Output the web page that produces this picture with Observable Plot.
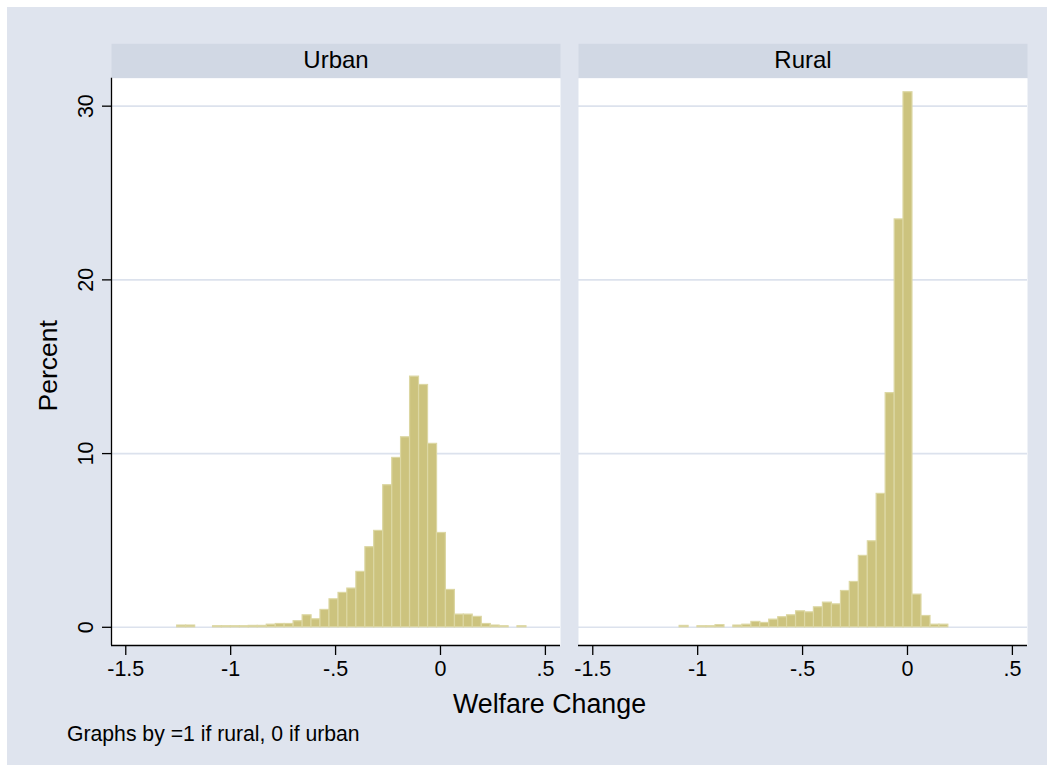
<!DOCTYPE html>
<html>
<head>
<meta charset="utf-8">
<script src="https://cdn.jsdelivr.net/npm/d3@7"></script>
<script src="https://cdn.jsdelivr.net/npm/@observablehq/plot@0.6"></script>
<style>
  html, body { margin: 0; padding: 0; background: #ffffff; }
  #chart { position: absolute; left: 7px; top: 7px; width: 1040px; height: 758px; background: #dfe4ee; }
</style>
</head>
<body>
<div id="chart"></div>
<script>
// ---- data ----
const panels = ["Urban", "Rural"];
const binWidth = 0.0427;

const urbanBinStart = [-1.255, -1.212, -1.170, -1.127, -1.084, -1.042, -0.999, -0.956, -0.914, -0.871,
  -0.828, -0.785, -0.743, -0.700, -0.657, -0.615, -0.572, -0.529, -0.486, -0.444,
  -0.401, -0.358, -0.316, -0.273, -0.230, -0.188, -0.145, -0.102, -0.059, -0.017,
  0.026, 0.069, 0.111, 0.154, 0.197, 0.239, 0.282, 0.325, 0.367];
const urbanPercent = [0.1, 0.1, 0, 0, 0.06, 0.06, 0.06, 0.06, 0.08, 0.08,
  0.15, 0.19, 0.19, 0.35, 0.69, 0.46, 1.0, 1.61, 1.98, 2.23,
  3.19, 4.61, 5.55, 8.18, 9.75, 10.94, 14.43, 13.95, 10.56, 5.43,
  2.15, 0.73, 0.73, 0.6, 0.19, 0.1, 0.06, 0, 0.06];

const ruralBinStart = [-1.086, -1.043, -1.001, -0.958, -0.915, -0.873, -0.830, -0.787, -0.744, -0.702,
  -0.659, -0.616, -0.574, -0.531, -0.488, -0.446, -0.403, -0.360, -0.317, -0.275,
  -0.232, -0.189, -0.147, -0.104, -0.061, -0.019, 0.024, 0.067, 0.110, 0.152];
const ruralPercent = [0.08, 0, 0.06, 0.06, 0.12, 0, 0.1, 0.15, 0.31, 0.25,
  0.44, 0.58, 0.69, 0.92, 0.86, 1.15, 1.42, 1.32, 2.09, 2.61,
  4.11, 4.95, 7.68, 13.48, 23.48, 30.8, 1.88, 0.65, 0.15, 0.15];

const xTicks = [-1.5, -1, -0.5, 0, 0.5];
const xTickLabels = ["-1.5", "-1", "-.5", "0", ".5"];
const yTicks = [0, 10, 20, 30];
const yTickLabels = ["0", "10", "20", "30"];
const xDomain = [-1.568, 0.572];
const yDomain = [-1.048, 31.61];

const xTitle = "Welfare Change";
const yTitle = "Percent";
const note = "Graphs by =1 if rural, 0 if urban";

// ---- table for the library ----
const bars = [];
urbanBinStart.forEach((x0, i) => { if (urbanPercent[i] > 0) bars.push({panel: "Urban", x0, x1: x0 + binWidth, pct: urbanPercent[i]}); });
ruralBinStart.forEach((x0, i) => { if (ruralPercent[i] > 0) bars.push({panel: "Rural", x0, x1: x0 + binWidth, pct: ruralPercent[i]}); });

const font = '"Liberation Sans", Arial, Helvetica, sans-serif';
const stripColor = "#d1d8e4";
const gridColor = "#dce2ed";
const barFill = "#ccc37e";
const barStroke = "#dcd7a3";

const chart = Plot.plot({
  width: 1040,
  height: 758,
  marginLeft: 103.5,
  marginRight: 19.7,
  marginTop: 70.7,
  marginBottom: 120,
  style: {fontFamily: font, color: "#000", background: "transparent", overflow: "visible"},
  fx: {domain: panels, axis: null, paddingInner: 0.0379, paddingOuter: 0},
  x: {domain: xDomain},
  y: {domain: yDomain},
  marks: [
    Plot.frame({fill: stripColor, stroke: "none", insetTop: -34.4, insetBottom: 567.3}),
    Plot.frame({fill: "white", stroke: "none"}),
    Plot.gridY(yTicks, {stroke: gridColor, strokeOpacity: 1, strokeWidth: 1.6}),
    Plot.rect(bars, {fx: "panel", x1: "x0", x2: "x1", y1: 0, y2: "pct", fill: barFill, stroke: barStroke, strokeWidth: 1.2}),
    Plot.ruleY([yDomain[0]], {stroke: "#000", strokeWidth: 1.3}),
    Plot.ruleX([xDomain[0]], {fx: () => "Urban", stroke: "#000", strokeWidth: 1.3}),
    Plot.axisX(xTicks, {tickSize: 10, tickPadding: 5, fontSize: 21.5, strokeWidth: 1.3,
      tickFormat: d => xTickLabels[xTicks.indexOf(d)], label: null}),
    Plot.axisY(yTicks, {tickSize: 9, tickPadding: 9.5, tickRotate: -90, fontSize: 21.5, strokeWidth: 1.3,
      tickFormat: d => yTickLabels[yTicks.indexOf(d)], label: null}),
    Plot.text(panels, {fx: d => d, text: d => d, frameAnchor: "top", lineAnchor: "middle", dy: -18.1, fontSize: 24}),
    Plot.text([yTitle], {fx: () => "Urban", text: d => d, frameAnchor: "left", rotate: -90, textAnchor: "middle", lineAnchor: "top", dx: -73, dy: 4, fontSize: 26.5}),
    Plot.text([xTitle], {fx: () => "Urban", text: d => d, frameAnchor: "bottom-left", textAnchor: "middle", lineAnchor: "bottom", dx: 438, dy: 67, fontSize: 26.8}),
    Plot.text([note], {fx: () => "Urban", text: d => d, frameAnchor: "bottom-left", textAnchor: "start", lineAnchor: "bottom", dx: -44.5, dy: 95, fontSize: 21.2})
  ]
});
document.getElementById("chart").appendChild(chart);
</script>
</body>
</html>
